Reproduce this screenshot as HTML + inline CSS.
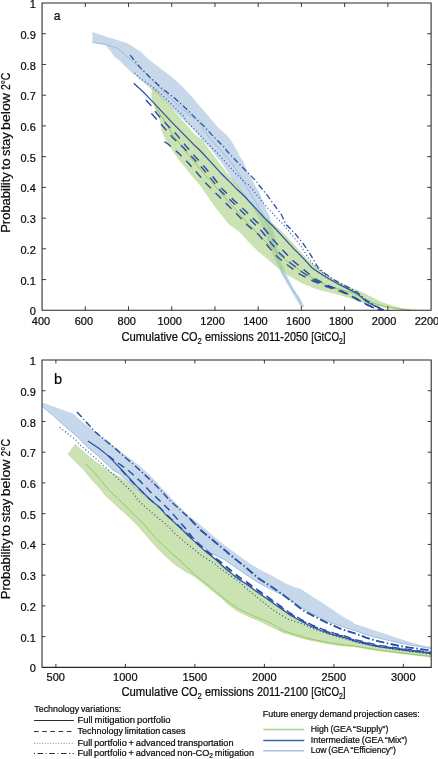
<!DOCTYPE html>
<html lang="en"><head><meta charset="utf-8"><title>Probability to stay below 2°C vs cumulative CO2 emissions</title>
<style>
html,body{margin:0;padding:0;background:#fff;}
body{width:438px;height:759px;position:relative;overflow:hidden;font-family:"Liberation Sans","DejaVu Sans",sans-serif;color:#1a1a1a;}
svg{display:block;}
</style></head><body>
<svg width="438" height="759" viewBox="0 0 438 759" style="position:absolute;left:0;top:0">
<g id="panelA">
<polygon points="92.4,31.9 107.4,36.9 127.5,43.3 140.3,51.5 150.0,60.5 161.0,68.7 171.9,76.9 182.9,87.0 192.0,97.0 198.4,104.5 208.4,116.0 217.6,126.9 226.7,135.1 230.7,140.0 236.1,149.1 239.8,156.4 243.4,161.9 247.1,171.0 249.7,175.0 254.3,184.1 259.7,193.3 263.4,202.4 267.1,211.5 269.2,215.0 272.0,226.0 275.6,238.7 278.4,251.5 281.4,261.0 286.0,273.7 292.4,286.5 300.6,299.3 303.6,305.0 304.2,307.0 300.6,307.0 299.6,305.0 296.0,299.3 288.7,286.5 281.4,273.7 276.5,263.0 273.8,257.0 269.2,244.2 263.5,229.6 258.3,217.0 251.5,206.0 242.4,193.3 235.1,184.1 229.5,174.7 221.5,162.8 212.4,151.0 203.3,140.0 190.0,126.0 182.0,118.6 171.0,107.6 160.0,96.6 156.5,93.6 149.2,87.4 136.4,76.3 131.0,72.0 120.0,61.0 114.7,57.0 105.6,44.7 92.4,42.4" fill="#9BBBD8" fill-opacity="0.57"/>
<path d="M92.4 42.4 L105.6 44.5 L116.5 47.8 L131.0 59.7 L145.7 73.4 L160.0 88.0 L173.0 100.5 L186.0 112.0 L198.4 121.4 L210.5 139.5 L221.5 151.0 L230.7 161.9 L238.0 172.0 L243.8 182.5 L251.5 195.1 L257.9 206.0 L263.4 215.2 L268.2 225.0 L272.0 238.7 L276.5 253.4 L279.0 262.5 L283.3 273.7 L290.6 286.5 L298.8 299.3 L301.8 305.0 L302.4 307.0" fill="none" stroke="#9DBEDF" stroke-width="1.0" stroke-linecap="butt" stroke-linejoin="round"/>
<polygon points="153.5,86.2 158.3,92.3 166.5,101.9 174.7,111.5 182.9,121.1 189.8,128.6 195.0,134.8 203.0,139.7 208.7,149.1 217.9,161.0 227.0,172.9 234.3,181.1 239.8,187.5 247.9,198.7 258.8,210.6 270.0,221.0 282.0,231.4 293.0,243.3 302.1,253.4 307.0,259.1 318.0,268.3 328.9,276.0 339.9,282.5 351.9,288.1 359.2,290.8 370.2,296.3 381.1,301.8 392.1,305.4 403.1,308.5 410.0,309.5 430.0,310.3 430.0,310.6 410.0,310.4 395.8,309.3 384.8,307.8 373.8,305.4 362.9,302.7 351.9,299.0 341.0,295.4 330.5,292.8 316.1,289.3 301.5,282.9 286.9,274.7 276.0,266.4 266.0,258.0 258.3,251.5 249.1,242.4 240.0,232.4 228.7,224.3 222.3,216.1 215.0,207.0 199.6,184.7 192.3,176.5 185.0,167.4 178.8,160.0 174.7,154.0 169.2,145.8 164.5,137.5 161.7,130.7 159.7,119.7 155.5,109.5 152.1,100.5 151.2,93.7 153.5,86.2" fill="#A6CE7B" fill-opacity="0.58"/>
<path d="M155.5 107.4 L163.8 119.7 L172.0 133.4 L180.2 144.4 L188.4 154.7 L194.1 161.9 L203.3 172.9 L210.6 181.1 L217.0 188.4 L224.1 196.9 L233.3 207.0 L242.0 217.0 L251.0 226.5 L261.9 238.0 L272.9 248.8 L283.8 258.8 L294.2 266.4 L305.2 273.7 L318.0 281.0 L328.9 286.5 L341.0 289.5 L351.9 292.7 L362.9 298.1 L373.8 303.1 L384.8 306.4 L395.8 308.5 L410.0 310.0" fill="none" stroke="#98C866" stroke-width="1.0" stroke-linecap="butt" stroke-linejoin="round"/>
<path d="M133.8 83.2 L143.3 92.0 L152.8 101.9 L162.4 112.2 L173.4 123.8 L184.3 134.8 L195.0 145.8 L199.6 150.0 L210.6 161.9 L221.5 173.8 L230.7 182.9 L237.0 189.3 L244.2 196.0 L255.2 207.9 L264.3 217.9 L272.9 226.0 L283.8 237.8 L293.9 248.8 L303.9 258.8 L312.5 268.3 L323.4 275.6 L334.4 282.0 L345.0 287.4 L357.4 293.6 L366.5 301.8 L375.7 306.4 L383.9 310.0" fill="none" stroke="#2C4FA3" stroke-width="1.2" stroke-linecap="butt" stroke-linejoin="round"/>
<path d="M130.2 55.1 L140.0 67.4 L151.0 78.3 L162.0 88.4 L174.3 97.8 L185.3 107.9 L195.3 117.9 L203.0 125.1 L212.1 135.1 L223.1 146.1 L227.0 151.0 L238.0 162.8 L247.1 172.0 L256.2 181.1 L258.8 185.0 L267.1 195.1 L274.4 205.1 L281.7 215.2 L285.7 224.1 L294.8 233.3 L303.0 243.3 L310.3 254.3 L318.0 267.4 L325.3 273.7 L334.4 280.1 L345.0 285.6 L357.0 292.0 L366.0 300.0 L375.0 305.5 L384.0 310.0" fill="none" stroke="#2C4FA3" stroke-width="1.3" stroke-dasharray="6 2.5 1.2 2.5" stroke-linecap="butt" stroke-linejoin="round"/>
<path d="M134.6 72.8 L139.6 78.3 L148.7 84.1 L161.5 94.2 L172.5 105.1 L183.4 116.1 L186.5 121.4 L197.5 132.4 L208.4 144.3 L217.9 153.7 L227.0 163.7 L236.1 173.8 L245.3 182.9 L248.8 185.0 L257.0 195.1 L265.2 205.1 L273.4 214.3 L283.8 225.0 L292.0 235.1 L300.3 245.1 L306.7 255.2 L312.1 263.4 L318.0 268.3 L323.4 273.7 L330.0 277.0" fill="none" stroke="#2C4FA3" stroke-width="1.2" stroke-dasharray="1 2.4" stroke-linecap="butt" stroke-linejoin="round"/>
<path d="M146.0 99.9 L150.8 105.3 L157.3 114.2 L167.2 124.9 L176.7 134.7 L185.7 145.7 L195.0 156.4 L204.2 166.5 L213.7 177.8 L222.3 189.0 L233.3 199.7 L244.2 209.7 L254.2 219.6 L264.7 229.1 L273.2 239.7 L283.0 250.5 L293.3 261.0 L304.3 270.1 L315.6 279.2 L328.4 285.6 L340.8 290.5 L352.0 296.0 L362.0 302.0 L372.0 307.0 L380.0 310.0" fill="none" stroke="#2C4FA3" stroke-width="1.45" stroke-dasharray="8 6.5" stroke-linecap="butt" stroke-linejoin="round"/>
<path d="M151.4 113.6 L154.0 116.3 L164.0 127.6 L173.0 137.9 L183.6 147.8 L193.2 158.3 L202.4 168.3 L211.8 179.6 L220.8 191.1 L231.8 201.5 L241.8 211.5 L251.5 221.0 L262.0 231.5 L271.0 243.0 L280.0 253.5 L290.5 263.0 L302.0 272.0 L314.0 280.0 L327.0 286.0 L340.8 291.2 L352.0 296.6 L362.0 302.3 L372.0 307.2 L381.0 310.0" fill="none" stroke="#2C4FA3" stroke-width="1.45" stroke-dasharray="8 6.5" stroke-linecap="butt" stroke-linejoin="round"/>
<path d="M164.5 141.6 L168.0 144.0 L179.0 153.6 L188.1 162.8 L198.2 174.2 L206.9 184.2 L217.7 195.1 L228.2 205.5 L238.2 215.5 L247.7 225.4 L259.2 235.1 L267.8 246.0 L276.8 256.4 L288.2 265.5 L299.7 274.1 L312.9 281.0 L326.2 286.5 L339.1 290.8 L348.3 294.5 L357.4 299.0 L366.5 304.5 L375.7 308.2 L383.0 310.0" fill="none" stroke="#2C4FA3" stroke-width="1.45" stroke-dasharray="8 6.5" stroke-linecap="butt" stroke-linejoin="round"/>
<path d="M41.55 3.0 H431.6 M41.55 310.3 H431.6 M42.05 3.0 V310.3 M431.1 3.0 V310.3" fill="none" stroke="#262626" stroke-width="1.05"/>
<path d="M85.28 310.3 v-4 M85.28 3.0 v4" stroke="#262626" stroke-width="0.9" fill="none"/>
<path d="M128.51 310.3 v-4 M128.51 3.0 v4" stroke="#262626" stroke-width="0.9" fill="none"/>
<path d="M171.73 310.3 v-4 M171.73 3.0 v4" stroke="#262626" stroke-width="0.9" fill="none"/>
<path d="M214.96 310.3 v-4 M214.96 3.0 v4" stroke="#262626" stroke-width="0.9" fill="none"/>
<path d="M258.19 310.3 v-4 M258.19 3.0 v4" stroke="#262626" stroke-width="0.9" fill="none"/>
<path d="M301.42 310.3 v-4 M301.42 3.0 v4" stroke="#262626" stroke-width="0.9" fill="none"/>
<path d="M344.64 310.3 v-4 M344.64 3.0 v4" stroke="#262626" stroke-width="0.9" fill="none"/>
<path d="M387.87 310.3 v-4 M387.87 3.0 v4" stroke="#262626" stroke-width="0.9" fill="none"/>
<path d="M42.05 279.57 h4 M431.1 279.57 h-4" stroke="#262626" stroke-width="0.9" fill="none"/>
<path d="M42.05 248.84 h4 M431.1 248.84 h-4" stroke="#262626" stroke-width="0.9" fill="none"/>
<path d="M42.05 218.11 h4 M431.1 218.11 h-4" stroke="#262626" stroke-width="0.9" fill="none"/>
<path d="M42.05 187.38 h4 M431.1 187.38 h-4" stroke="#262626" stroke-width="0.9" fill="none"/>
<path d="M42.05 156.65 h4 M431.1 156.65 h-4" stroke="#262626" stroke-width="0.9" fill="none"/>
<path d="M42.05 125.92 h4 M431.1 125.92 h-4" stroke="#262626" stroke-width="0.9" fill="none"/>
<path d="M42.05 95.19 h4 M431.1 95.19 h-4" stroke="#262626" stroke-width="0.9" fill="none"/>
<path d="M42.05 64.46 h4 M431.1 64.46 h-4" stroke="#262626" stroke-width="0.9" fill="none"/>
<path d="M42.05 33.73 h4 M431.1 33.73 h-4" stroke="#262626" stroke-width="0.9" fill="none"/>
</g>
<g id="panelB">
<polygon points="42.3,402.4 73.4,413.7 82.5,422.0 91.5,429.1 102.5,437.4 113.4,445.6 120.0,451.0 128.4,457.3 136.4,463.2 147.4,472.8 157.0,482.4 162.0,488.5 166.6,493.0 171.0,498.0 180.5,507.6 188.8,515.8 198.2,523.0 207.8,531.2 217.4,539.4 225.6,546.0 233.2,551.6 242.8,558.5 252.4,565.3 262.0,570.8 271.6,575.6 283.8,582.6 293.4,586.7 300.2,588.8 307.0,592.9 315.0,598.4 319.2,600.8 330.2,608.1 341.1,615.4 352.1,621.8 355.0,623.9 366.0,627.5 376.9,631.2 387.9,634.8 398.8,638.5 409.8,642.1 420.8,644.9 431.0,646.7 431.0,648.5 420.8,646.7 409.8,644.9 398.8,642.7 387.9,640.3 376.9,637.6 366.0,634.8 355.8,630.9 344.8,627.3 333.8,623.6 322.9,619.0 311.9,613.6 301.0,607.2 287.9,598.4 279.7,593.6 271.4,589.5 263.2,585.3 255.0,580.5 245.5,574.2 238.7,569.5 231.8,564.7 225.0,559.9 216.0,555.5 209.2,551.7 203.7,546.9 196.8,540.8 190.0,534.6 179.8,527.0 172.3,520.6 165.5,514.5 159.7,508.0 148.7,499.2 136.4,489.2 128.2,481.7 120.0,474.2 111.9,469.2 98.8,456.5 87.9,447.4 75.2,434.7 64.2,425.6 53.3,415.6 42.3,406.4" fill="#9BBBD8" fill-opacity="0.57"/>
<path d="M42.3 406.4 L53.3 415.6 L64.2 425.6 L75.2 434.7 L87.9 447.4 L98.8 456.5 L111.9 469.2 L120.0 474.2 L128.2 481.7 L136.4 489.2 L148.7 499.2 L159.7 508.0 L165.5 514.5 L172.3 520.6 L179.8 527.0 L190.0 534.6 L196.8 540.8 L203.7 546.9 L209.2 551.7 L216.0 555.5 L225.0 559.9 L231.8 564.7 L238.7 569.5 L245.5 574.2 L255.0 580.5 L263.2 585.3 L271.4 589.5 L279.7 593.6 L287.9 598.4 L301.0 607.2 L311.9 613.6 L322.9 619.0 L333.8 623.6 L344.8 627.3 L355.8 630.9 L366.0 634.8 L376.9 637.6 L387.9 640.3 L398.8 642.7 L409.8 644.9 L420.8 646.7 L431.0 648.5" fill="none" stroke="#9DBEDF" stroke-width="1.0" stroke-linecap="butt" stroke-linejoin="round"/>
<polygon points="75.1,443.7 84.2,452.0 95.2,461.1 104.3,467.5 111.9,472.5 120.0,476.5 128.2,482.2 136.4,489.6 148.7,499.5 159.7,508.5 165.5,514.8 172.3,521.0 179.8,527.6 190.0,537.3 198.2,544.9 205.1,551.0 216.0,559.7 225.0,566.7 233.2,573.6 240.0,579.0 247.0,583.4 255.0,589.5 261.8,594.2 268.7,599.0 277.9,605.8 285.2,610.4 290.0,614.5 301.0,620.9 311.9,626.4 322.9,630.9 333.8,634.6 344.8,637.3 355.0,641.2 366.0,644.0 376.9,646.3 387.9,648.0 398.8,649.4 409.8,650.9 420.8,652.2 431.0,653.5 431.0,657.1 420.8,655.8 409.8,654.6 398.8,653.3 387.9,651.8 376.9,650.4 366.0,648.5 355.0,646.7 339.9,645.6 328.5,643.8 317.1,641.5 305.7,639.2 294.2,635.8 282.8,632.4 271.4,626.7 258.9,620.7 248.0,616.1 237.0,610.6 227.9,604.2 222.4,598.7 213.3,591.4 204.1,584.1 195.0,576.8 185.0,571.0 174.7,564.3 166.5,557.0 157.4,547.9 148.3,537.8 139.1,526.9 130.0,517.7 118.5,507.5 105.4,495.2 97.8,486.0 90.0,477.5 83.3,469.3 76.9,462.9 67.8,453.8" fill="#A6CE7B" fill-opacity="0.58"/>
<path d="M67.8 453.8 L76.9 462.9 L83.3 469.3 L90.0 477.5 L97.8 486.0 L105.4 495.2 L118.5 507.5 L130.0 517.7 L139.1 526.9 L148.3 537.8 L157.4 547.9 L166.5 557.0 L174.7 564.3 L185.0 571.0 L195.0 576.8 L204.1 584.1 L213.3 591.4 L222.4 598.7 L227.9 604.2 L237.0 610.6 L248.0 616.1 L258.9 620.7 L271.4 626.7 L282.8 632.4 L294.2 635.8 L305.7 639.2 L317.1 641.5 L328.5 643.8 L339.9 645.6 L355.0 646.7 L366.0 648.5 L376.9 650.4 L387.9 651.8 L398.8 653.3 L409.8 654.6 L420.8 655.8 L431.0 657.1" fill="none" stroke="#A8D27E" stroke-width="0.6" stroke-linecap="butt" stroke-linejoin="round"/>
<path d="M85.1 463.8 L91.5 469.3 L99.1 478.3 L108.3 489.3 L117.4 498.4 L125.0 505.6 L134.1 514.7 L144.6 525.0 L153.7 536.0 L162.9 545.1 L172.0 553.4 L181.1 561.6 L195.0 575.0 L206.0 583.2 L216.9 592.4 L227.9 601.5 L238.8 608.8 L249.8 614.3 L260.8 618.8 L271.7 623.5 L282.8 630.4 L294.2 634.3 L305.7 637.7 L317.1 640.3 L328.5 642.6 L339.9 644.4 L355.0 646.0 L376.9 649.7 L398.8 652.6 L431.0 656.4" fill="none" stroke="#98C866" stroke-width="1.0" stroke-linecap="butt" stroke-linejoin="round"/>
<path d="M87.9 441.0 L98.8 448.3 L108.0 455.6 L111.6 459.3 L120.0 468.0 L128.2 476.9 L136.4 485.8 L143.3 492.7 L150.0 499.5 L160.0 507.6 L165.5 514.5 L172.3 520.6 L179.8 527.6 L190.0 537.3 L198.2 544.9 L205.1 551.0 L216.0 559.7 L226.4 569.5 L233.2 574.9 L240.0 580.0 L247.0 584.4 L255.0 590.5 L261.8 595.2 L268.7 600.0 L277.9 606.5 L290.0 615.0 L301.0 621.3 L311.9 626.7 L322.9 631.2 L333.8 634.9 L344.8 637.6 L355.0 641.2 L366.0 644.0 L376.9 646.3 L387.9 648.0 L398.8 649.4 L409.8 650.9 L420.8 652.2 L431.0 653.5" fill="none" stroke="#2C4FA3" stroke-width="1.2" stroke-linecap="butt" stroke-linejoin="round"/>
<path d="M77.0 411.9 L86.1 422.0 L95.2 431.9 L106.1 441.0 L117.1 450.1 L125.5 457.7 L133.7 464.6 L141.9 472.1 L151.5 481.0 L161.1 490.6 L170.0 500.5 L182.0 511.5 L190.0 518.8" fill="none" stroke="#2C4FA3" stroke-width="1.5" stroke-dasharray="7 2.5 1.2 2.5" stroke-linecap="butt" stroke-linejoin="round"/>
<path d="M190.0 518.8 L200.0 529.5 L212.0 539.5 L225.0 550.3 L234.6 558.5 L245.9 567.4 L258.0 578.0 L270.0 585.7 L282.0 594.0 L291.6 601.3 L303.7 610.8 L315.9 617.2 L328.7 623.6 L341.5 629.1 L355.8 633.7 L366.0 637.6 L376.9 640.9 L387.9 643.4 L398.8 645.8 L409.8 647.6 L420.8 649.1 L431.0 650.4" fill="none" stroke="#2C4FA3" stroke-width="1.9" stroke-dasharray="8.5 2.5 1.5 2.5" stroke-linecap="butt" stroke-linejoin="round"/>
<path d="M59.7 427.4 L67.9 433.8 L75.2 439.3 L80.6 445.6 L91.5 454.7 L100.7 462.9 L104.6 466.4 L115.6 476.5 L126.5 486.5 L133.8 493.8 L137.8 500.1 L148.7 510.1 L159.7 519.3 L168.8 526.6 L174.1 532.7 L183.3 540.9 L192.4 548.2 L201.5 555.5 L214.1 563.3 L223.3 570.6 L232.4 577.0 L241.5 583.4 L245.0 587.6 L254.1 594.9 L263.3 602.2 L272.4 609.5 L287.4 619.0 L301.1 623.5 L314.8 629.3 L328.5 634.2 L342.2 638.0 L360.0 643.2 L380.0 647.3 L400.0 650.3 L431.0 654.2" fill="none" stroke="#2C4FA3" stroke-width="1.2" stroke-dasharray="1 2.4" stroke-linecap="butt" stroke-linejoin="round"/>
<path d="M108.0 455.6 L118.0 463.0 L129.0 471.0 L140.5 481.4 L150.0 491.6 L161.7 502.5 L170.6 511.4 L179.5 521.6 L186.0 529.0 L192.0 537.0 L198.2 543.4 L205.1 549.5 L216.0 558.2 L225.0 565.2 L233.2 572.1 L240.0 577.5 L247.0 582.0 L255.0 588.0 L261.8 592.7 L268.7 597.5 L278.2 604.4 L290.0 613.0 L301.0 619.4 L311.9 624.9 L322.9 629.4 L333.8 633.1 L344.8 636.0 L355.0 639.7 L376.9 645.0 L398.8 648.2 L431.0 652.2" fill="none" stroke="#2C4FA3" stroke-width="1.45" stroke-dasharray="7.5 5" stroke-linecap="butt" stroke-linejoin="round"/>
<path d="M121.0 469.5 L129.0 478.5 L136.9 486.8 L148.7 498.2 L160.1 508.0 L171.6 519.4 L180.0 527.0 L190.0 536.5 L198.2 544.1 L205.1 550.2 L216.0 559.0 L225.0 566.0 L233.2 572.9 L240.0 578.3 L247.0 582.8 L255.0 588.8 L261.8 593.5 L268.7 598.3 L277.9 605.0 L290.0 613.7 L301.0 620.2 L311.9 625.7 L322.9 630.2 L333.8 633.9 L344.8 636.7 L355.0 640.5 L376.9 645.7 L398.8 648.8 L431.0 652.9" fill="none" stroke="#2C4FA3" stroke-width="1.45" stroke-dasharray="7.5 5.5" stroke-linecap="butt" stroke-linejoin="round"/>
<path d="M41.5 360.0 H431.7 M41.5 667.35 H431.7 M42.0 360.0 V667.35 M431.2 360.0 V667.35" fill="none" stroke="#262626" stroke-width="1.05"/>
<path d="M55.90 667.35 v-3.5 M55.90 360.0 v3.5" stroke="#262626" stroke-width="0.9" fill="none"/>
<path d="M125.40 667.35 v-3.5 M125.40 360.0 v3.5" stroke="#262626" stroke-width="0.9" fill="none"/>
<path d="M194.90 667.35 v-3.5 M194.90 360.0 v3.5" stroke="#262626" stroke-width="0.9" fill="none"/>
<path d="M264.40 667.35 v-3.5 M264.40 360.0 v3.5" stroke="#262626" stroke-width="0.9" fill="none"/>
<path d="M333.90 667.35 v-3.5 M333.90 360.0 v3.5" stroke="#262626" stroke-width="0.9" fill="none"/>
<path d="M403.40 667.35 v-3.5 M403.40 360.0 v3.5" stroke="#262626" stroke-width="0.9" fill="none"/>
<path d="M42.0 636.62 h3.5 M431.2 636.62 h-3.5" stroke="#262626" stroke-width="0.9" fill="none"/>
<path d="M42.0 605.88 h3.5 M431.2 605.88 h-3.5" stroke="#262626" stroke-width="0.9" fill="none"/>
<path d="M42.0 575.14 h3.5 M431.2 575.14 h-3.5" stroke="#262626" stroke-width="0.9" fill="none"/>
<path d="M42.0 544.41 h3.5 M431.2 544.41 h-3.5" stroke="#262626" stroke-width="0.9" fill="none"/>
<path d="M42.0 513.67 h3.5 M431.2 513.67 h-3.5" stroke="#262626" stroke-width="0.9" fill="none"/>
<path d="M42.0 482.94 h3.5 M431.2 482.94 h-3.5" stroke="#262626" stroke-width="0.9" fill="none"/>
<path d="M42.0 452.20 h3.5 M431.2 452.20 h-3.5" stroke="#262626" stroke-width="0.9" fill="none"/>
<path d="M42.0 421.47 h3.5 M431.2 421.47 h-3.5" stroke="#262626" stroke-width="0.9" fill="none"/>
<path d="M42.0 390.74 h3.5 M431.2 390.74 h-3.5" stroke="#262626" stroke-width="0.9" fill="none"/>
</g>
<g id="legend">
<path d="M34 720.5 H73.8" stroke="#2a2a2a" stroke-width="1" fill="none"/>
<path d="M34 731.5 H73.8" stroke="#2a2a2a" stroke-width="1" stroke-dasharray="4.6 3.6" fill="none"/>
<path d="M34 743.3 H73.8" stroke="#777" stroke-width="1" stroke-dasharray="0.9 1.8" fill="none"/>
<path d="M34 753.5 H73.8" stroke="#2a2a2a" stroke-width="1" stroke-dasharray="1 2.6 5.5 2.6" fill="none"/>
<path d="M263.2 729.6 H304.3" stroke="#A9D18A" stroke-width="1.5" fill="none"/>
<path d="M263.2 740.5 H304.3" stroke="#3F63AE" stroke-width="1.5" fill="none"/>
<path d="M263.2 750.7 H304.3" stroke="#A6C4E3" stroke-width="1.5" fill="none"/>
</g>
<g id="labels" word-spacing="-0.7" font-family="'Liberation Sans','DejaVu Sans',sans-serif" fill="#0a0a0a" stroke="#0a0a0a" stroke-width="0.22"><text x="35.8" y="315.3" font-size="11" text-anchor="end">0</text>
<text x="35.8" y="284.6" font-size="11" text-anchor="end">0.1</text>
<text x="35.8" y="253.8" font-size="11" text-anchor="end">0.2</text>
<text x="35.8" y="223.1" font-size="11" text-anchor="end">0.3</text>
<text x="35.8" y="192.4" font-size="11" text-anchor="end">0.4</text>
<text x="35.8" y="161.7" font-size="11" text-anchor="end">0.5</text>
<text x="35.8" y="130.9" font-size="11" text-anchor="end">0.6</text>
<text x="35.8" y="100.2" font-size="11" text-anchor="end">0.7</text>
<text x="35.8" y="69.5" font-size="11" text-anchor="end">0.8</text>
<text x="35.8" y="38.7" font-size="11" text-anchor="end">0.9</text>
<text x="35.8" y="8.0" font-size="11" text-anchor="end">1</text>
<text x="35.8" y="672.4" font-size="11" text-anchor="end">0</text>
<text x="35.8" y="641.6" font-size="11" text-anchor="end">0.1</text>
<text x="35.8" y="610.9" font-size="11" text-anchor="end">0.2</text>
<text x="35.8" y="580.1" font-size="11" text-anchor="end">0.3</text>
<text x="35.8" y="549.4" font-size="11" text-anchor="end">0.4</text>
<text x="35.8" y="518.7" font-size="11" text-anchor="end">0.5</text>
<text x="35.8" y="487.9" font-size="11" text-anchor="end">0.6</text>
<text x="35.8" y="457.2" font-size="11" text-anchor="end">0.7</text>
<text x="35.8" y="426.5" font-size="11" text-anchor="end">0.8</text>
<text x="35.8" y="395.7" font-size="11" text-anchor="end">0.9</text>
<text x="35.8" y="365.0" font-size="11" text-anchor="end">1</text>
<text x="41.0" y="325.0" font-size="11" text-anchor="middle">400</text>
<text x="83.9" y="325.0" font-size="11" text-anchor="middle">600</text>
<text x="126.8" y="325.0" font-size="11" text-anchor="middle">800</text>
<text x="169.7" y="325.0" font-size="11" text-anchor="middle">1000</text>
<text x="212.6" y="325.0" font-size="11" text-anchor="middle">1200</text>
<text x="255.4" y="325.0" font-size="11" text-anchor="middle">1400</text>
<text x="298.3" y="325.0" font-size="11" text-anchor="middle">1600</text>
<text x="341.2" y="325.0" font-size="11" text-anchor="middle">1800</text>
<text x="384.1" y="325.0" font-size="11" text-anchor="middle">2000</text>
<text x="427.0" y="325.0" font-size="11" text-anchor="middle">2200</text>
<text x="55.8" y="681.2" font-size="11" text-anchor="middle">500</text>
<text x="125.3" y="681.2" font-size="11" text-anchor="middle">1000</text>
<text x="194.8" y="681.2" font-size="11" text-anchor="middle">1500</text>
<text x="264.3" y="681.2" font-size="11" text-anchor="middle">2000</text>
<text x="333.8" y="681.2" font-size="11" text-anchor="middle">2500</text>
<text x="403.3" y="681.2" font-size="11" text-anchor="middle">3000</text>
<text x="53.8" y="19.7" font-size="12.2" text-anchor="start">a</text>
<text x="54.0" y="383.7" font-size="14.6" text-anchor="start">b</text>
<text x="121.4" y="341.4" font-size="12" text-anchor="start" textLength="56.6" lengthAdjust="spacingAndGlyphs">Cumulative</text>
<text x="181.2" y="341.4" font-size="12" text-anchor="start" textLength="20.6" lengthAdjust="spacingAndGlyphs">CO<tspan dy="2.6" font-size="8.3">2</tspan><tspan dy="-2.6"></tspan></text>
<text x="205.0" y="341.4" font-size="12" text-anchor="start" textLength="48.8" lengthAdjust="spacingAndGlyphs">emissions</text>
<text x="257.0" y="341.4" font-size="12" text-anchor="start" textLength="51.0" lengthAdjust="spacingAndGlyphs">2011-2050</text>
<text x="311.2" y="341.4" font-size="12" text-anchor="start" textLength="34.4" lengthAdjust="spacingAndGlyphs">[GtCO<tspan dy="2.6" font-size="8.3">2</tspan><tspan dy="-2.6">]</tspan></text>
<text x="121.4" y="696.4" font-size="12" text-anchor="start" textLength="56.6" lengthAdjust="spacingAndGlyphs">Cumulative</text>
<text x="181.2" y="696.4" font-size="12" text-anchor="start" textLength="20.6" lengthAdjust="spacingAndGlyphs">CO<tspan dy="2.6" font-size="8.3">2</tspan><tspan dy="-2.6"></tspan></text>
<text x="205.0" y="696.4" font-size="12" text-anchor="start" textLength="48.8" lengthAdjust="spacingAndGlyphs">emissions</text>
<text x="257.0" y="696.4" font-size="12" text-anchor="start" textLength="51.0" lengthAdjust="spacingAndGlyphs">2011-2100</text>
<text x="311.2" y="696.4" font-size="12" text-anchor="start" textLength="34.4" lengthAdjust="spacingAndGlyphs">[GtCO<tspan dy="2.6" font-size="8.3">2</tspan><tspan dy="-2.6">]</tspan></text>
<text transform="translate(10.3 232.8) rotate(-90)" font-size="12.6" textLength="60.6" lengthAdjust="spacingAndGlyphs">Probability</text>
<text transform="translate(10.3 169.8) rotate(-90)" font-size="12.6" textLength="11.4" lengthAdjust="spacingAndGlyphs">to</text>
<text transform="translate(10.3 155.9) rotate(-90)" font-size="12.6" textLength="23.6" lengthAdjust="spacingAndGlyphs">stay</text>
<text transform="translate(10.3 129.9) rotate(-90)" font-size="12.6" textLength="36.8" lengthAdjust="spacingAndGlyphs">below</text>
<text transform="translate(10.3 90.1) rotate(-90)" font-size="12.6" textLength="17.5" lengthAdjust="spacingAndGlyphs">2°C</text>
<text transform="translate(10.3 599.2) rotate(-90)" font-size="12.6" textLength="60.6" lengthAdjust="spacingAndGlyphs">Probability</text>
<text transform="translate(10.3 536.2) rotate(-90)" font-size="12.6" textLength="11.4" lengthAdjust="spacingAndGlyphs">to</text>
<text transform="translate(10.3 522.3) rotate(-90)" font-size="12.6" textLength="23.6" lengthAdjust="spacingAndGlyphs">stay</text>
<text transform="translate(10.3 496.3) rotate(-90)" font-size="12.6" textLength="36.8" lengthAdjust="spacingAndGlyphs">below</text>
<text transform="translate(10.3 456.5) rotate(-90)" font-size="12.6" textLength="17.5" lengthAdjust="spacingAndGlyphs">2°C</text>
<text x="34.3" y="711.5" font-size="9.3" text-anchor="start" textLength="87.0" lengthAdjust="spacingAndGlyphs">Technology variations:</text>
<text x="77.5" y="722.7" font-size="9.3" text-anchor="start" textLength="93.0" lengthAdjust="spacingAndGlyphs">Full mitigation portfolio</text>
<text x="77.5" y="734.2" font-size="9.3" text-anchor="start" textLength="108.0" lengthAdjust="spacingAndGlyphs">Technology limitation cases</text>
<text x="77.5" y="745.6" font-size="9.3" text-anchor="start" textLength="156.0" lengthAdjust="spacingAndGlyphs">Full portfolio + advanced transportation</text>
<text x="77.5" y="756.2" font-size="9.3" text-anchor="start" textLength="176.5" lengthAdjust="spacingAndGlyphs">Full portfolio + advanced non-CO<tspan dy="2.0" font-size="6.6">2</tspan><tspan dy="-2.0"> mitigation</tspan></text>
<text x="262.8" y="717.0" font-size="9.3" text-anchor="start" textLength="157.0" lengthAdjust="spacingAndGlyphs">Future energy demand projection cases:</text>
<text x="310.8" y="731.5" font-size="9.3" text-anchor="start" textLength="77.5" lengthAdjust="spacingAndGlyphs">High (GEA “Supply”)</text>
<text x="310.8" y="742.6" font-size="9.3" text-anchor="start" textLength="96.5" lengthAdjust="spacingAndGlyphs">Intermediate (GEA “Mix”)</text>
<text x="310.8" y="753.4" font-size="9.3" text-anchor="start" textLength="85.0" lengthAdjust="spacingAndGlyphs">Low (GEA “Efficiency”)</text></g>
</svg>

</body></html>
